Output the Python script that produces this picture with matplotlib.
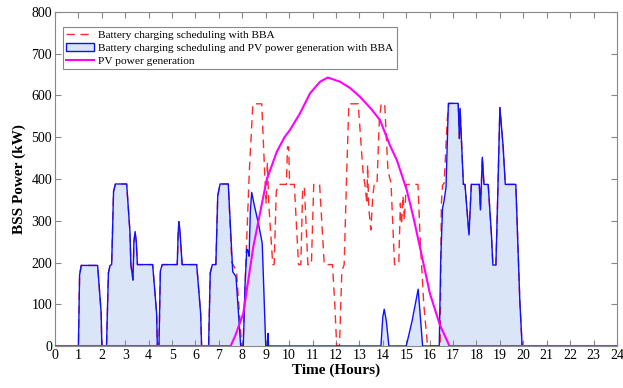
import numpy as np
import matplotlib
matplotlib.use("Agg")
import matplotlib.pyplot as plt

plt.rcParams['font.family'] = ['Liberation Serif', 'DejaVu Serif']

# shared night/morning part (no PV, both schedules identical)
morning_t = [0, 1.0, 1.05, 1.12, 1.82, 1.97, 2.0,
             2.2, 2.28, 2.35, 2.42, 2.5, 2.58, 3.06, 3.2, 3.24, 3.33, 3.37, 3.42, 3.47, 3.52, 4.17, 4.34, 4.37,
             4.44, 4.5, 4.58, 5.22, 5.26, 5.29, 5.33, 5.43, 6.05, 6.22, 6.26,
             6.56, 6.63, 6.72, 6.87, 6.95, 7.05, 7.40]
morning_p = [0, 0, 170, 193, 193, 80, 0,
             0, 175, 193, 195, 370, 388, 388, 274, 195, 158, 250, 274, 250, 195, 195, 78, 0,
             0, 180, 195, 195, 270, 298, 280, 195, 195, 78, 0,
             0, 175, 195, 195, 360, 388, 388]

# shared evening part
evening_t = [16.84, 17.22, 17.27, 17.3, 17.44, 17.51, 17.68, 17.78, 18.12, 18.17, 18.25, 18.32,
             18.5, 18.64, 18.7, 18.83, 18.9, 19.0, 19.14, 19.23, 19.68, 19.85, 19.95, 24]
evening_p = [581, 581, 497, 569, 387, 387, 266, 387, 387, 326, 452, 387,
             387, 266, 194, 194, 342, 571, 477, 387, 387, 110, 0, 0]

# midday, schedule with BBA only
bba_mid_t = [7.55, 7.75, 7.90, 7.97, 8.03, 8.15, 8.3, 8.45, 8.83, 8.95, 9.02, 9.07, 9.13, 9.3,
             9.36, 9.45, 9.54, 9.88, 9.93, 9.98, 10.02, 10.22, 10.4, 10.5, 10.58, 10.65, 10.8,
             10.95, 11.05, 11.3, 11.5, 11.85, 11.95, 12.03, 12.15, 12.25, 12.35, 12.45, 12.55,
             12.95, 13.15, 13.25, 13.32, 13.35, 13.4, 13.49, 13.57, 13.63, 13.75, 13.85, 13.93,
             14.08, 14.22, 14.35, 14.5, 14.68, 14.75, 14.8, 14.86, 14.92, 15.0, 15.5, 15.6,
             15.75, 15.91, 16.45, 16.5, 16.55, 16.62, 16.75, 16.82]
bba_mid_p = [200, 180, 60, 0, 0, 200, 420, 580, 580, 420, 340, 440, 340, 195,
             195, 370, 387, 387, 477, 477, 387, 387, 195, 195, 380, 380, 195,
             195, 387, 387, 195, 195, 100, 0, 0, 180, 195, 400, 580,
             580, 420, 380, 340, 434, 330, 278, 360, 385, 385, 540, 580,
             580, 420, 390, 195, 195, 342, 290, 360, 300, 387, 387, 250,
             100, 0, 0, 340, 385, 390, 540, 581]

# midday, schedule with BBA and PV generation
pv_mid_t = [7.59, 7.73, 7.93, 8.04, 8.12, 8.19, 8.24, 8.29, 8.34, 8.40, 8.5, 8.7, 8.85, 9.0,
            9.08, 9.1, 9.12, 13.92, 14.0, 14.06, 14.15, 14.26, 15.0, 15.25, 15.51, 15.7,
            16.41, 16.47, 16.55, 16.61, 16.7, 16.8]
pv_mid_p = [178, 166, 0, 0, 150, 232, 228, 215, 320, 368, 340, 290, 246, 0,
            0, 30, 0, 0, 70, 88, 60, 0, 0, 60, 136, 0,
            0, 200, 330, 346, 380, 581]

# PV power generation
pv_t = [0, 7.5, 7.7, 8.04, 8.47, 9.04, 9.47, 9.8, 10.03, 10.46, 10.89, 11.32, 11.65, 12.17,
        12.6, 13.02, 13.5, 13.88, 14.3, 14.6, 15.02, 15.3, 15.58, 16.01, 16.44, 16.8, 16.84, 24]
pv_p = [0, 0, 25, 78, 238, 398, 465, 500, 517, 557, 605, 633, 643, 633,
        618, 597, 568, 541, 481, 445, 374, 310, 238, 126, 50, 6, 0, 0]

bba_t = morning_t + bba_mid_t + evening_t
bba_p = morning_p + bba_mid_p + evening_p
both_t = morning_t + pv_mid_t + evening_t
both_p = morning_p + pv_mid_p + evening_p

fig = plt.figure(figsize=(6.23, 3.88), dpi=100)
ax = fig.add_axes([0.0883, 0.1082, 0.902, 0.861])

ax.fill_between(both_t, both_p, 0, color='#dae6f7', linewidth=0, zorder=1)
ax.plot(bba_t, bba_p, color='#ff2a2a', linestyle=(0, (6, 4)), linewidth=1.0, zorder=2)
ax.plot(both_t, both_p, color='#1010ff', linewidth=1.0, zorder=3)
ax.plot(pv_t, pv_p, color='#ff00ff', linewidth=1.5, zorder=4)

h_red = plt.Line2D([], [], color='#ff2a2a', linestyle=(0, (6, 4)), linewidth=1.0)
h_blue = matplotlib.patches.Patch(facecolor='#dae6f7', edgecolor='#1010ff', linewidth=1.0)
h_mag = plt.Line2D([], [], color='#ff00ff', linewidth=1.5)
leg = ax.legend([h_red, h_blue, h_mag],
                ['Battery charging scheduling with BBA',
                 'Battery charging scheduling and PV power generation with BBA',
                 'PV power generation'],
                loc='upper left', bbox_to_anchor=(0.014, 0.955), borderaxespad=0,
                fontsize=8.2, fancybox=False, framealpha=1, handlelength=2.4,
                labelspacing=0.25, borderpad=0.3, handletextpad=0.4)
leg.get_frame().set_edgecolor('#888888')
leg.get_frame().set_linewidth(0.8)

ax.set_xlim(0, 24)
ax.set_ylim(0, 800)
ax.set_xticks(np.arange(0, 25, 1))
ax.set_yticks(np.arange(0, 801, 100))
ax.tick_params(direction='in', top=True, right=True, length=4, width=0.8,
               color='#888888', labelsize=10, pad=2)
for s in ax.spines.values():
    s.set_color('#888888')
    s.set_linewidth(0.8)

ax.set_xlabel('Time (Hours)', fontsize=11, fontweight='bold', labelpad=1)
ax.set_ylabel('BSS Power (kW)', fontsize=11, fontweight='bold', labelpad=4)

fig.savefig('out.png', dpi=100)
